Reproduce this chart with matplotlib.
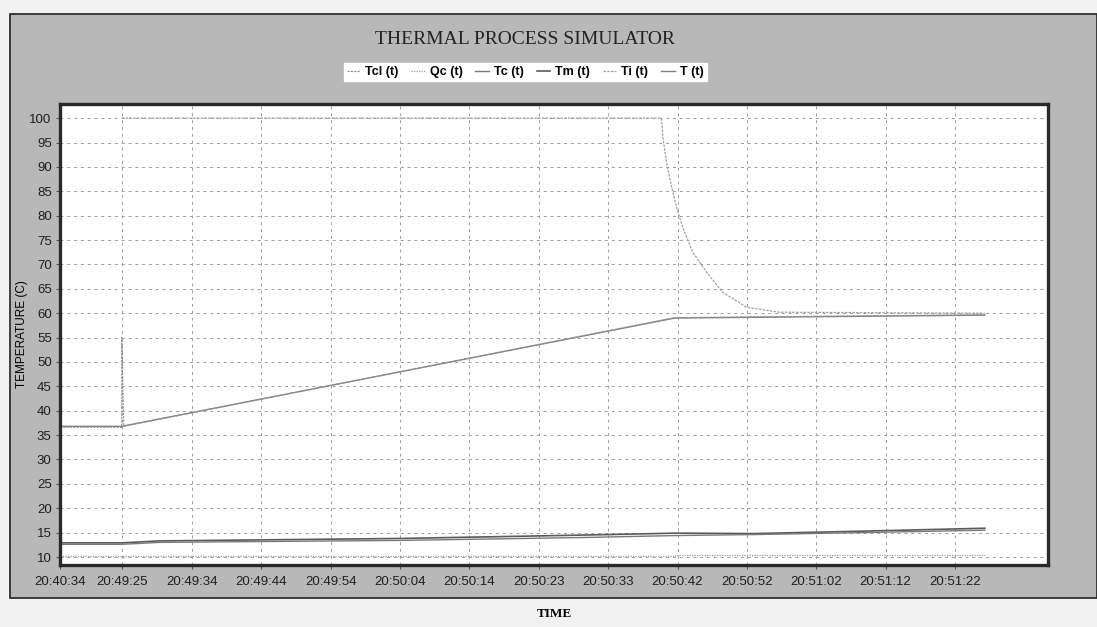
import numpy as np
import matplotlib.pyplot as plt
from matplotlib.patches import Rectangle

# sample index (one per second) and the clock labels under the grid
tick_pos = [0, 9, 19, 29, 39, 49, 59, 69, 79, 89, 99, 109, 119, 129]
tick_lbl = ['20:40:34', '20:49:25', '20:49:34', '20:49:44', '20:49:54', '20:50:04',
            '20:50:14', '20:50:23', '20:50:33', '20:50:42', '20:50:52', '20:51:02',
            '20:51:12', '20:51:22']

# Ti(t): held at 100 then decays towards 60
ti_x = [8.9, 86.7, 86.9, 87.5, 88.2, 88.9, 89.8, 91.2, 93.2, 95.5, 99.0, 103.7, 133.3]
ti_y = [100, 100, 95.9, 90.3, 85.6, 81.5, 77.4, 72.5, 68.4, 64.3, 61.2, 60.2, 60.0]

# T(t): ramp from 37 to 59
t_x = [0, 8.9, 88.6, 133.3]
t_y = [36.8, 36.8, 59.0, 59.6]

# Tcl(t): spike at the start then along the ramp
tcl_x = [0, 8.9, 8.9, 9.2, 88.6, 133.3]
tcl_y = [36.6, 36.6, 55.0, 36.8, 59.1, 59.7]

# Tm(t), Tc(t): the low lines
tm_x = [0, 8.9, 14.4, 49, 75.5, 88.9, 99.9, 115.7, 133.3]
tm_y = [12.9, 12.9, 13.3, 13.8, 14.5, 14.9, 14.8, 15.3, 15.9]
tc_x = [0, 8.9, 14.4, 49, 75.5, 88.9, 99.9, 115.7, 133.3]
tc_y = [12.6, 12.6, 13.0, 13.4, 14.0, 14.4, 14.6, 15.0, 15.5]

# Qc(t)
qc_x = [0, 88.6, 88.6, 133.3]
qc_y = [10.3, 10.3, 10.4, 10.4]

fig = plt.figure(figsize=(10.97, 6.27), dpi=100)
fig.patch.set_facecolor('#f2f2f2')

# gray panel with a thin border
fig.patches.append(Rectangle((10/1097, 1-598/627), 1087/1097, 584/627,
                             transform=fig.transFigure, facecolor='#b8b8b8',
                             edgecolor='#222222', linewidth=1.2, zorder=-5))

ax = fig.add_axes([60/1097, 1-565/627, 988/1097, 461/627])
ax.set_zorder(2)
ax.set_facecolor('white')

ax.plot(ti_x, ti_y, color='#a0a0a0', lw=0.9, linestyle=(0, (2, 1)), label='Ti (t)')
ax.plot(t_x, t_y, color='#808080', lw=1.0, label='T (t)')
ax.plot(tcl_x, tcl_y, color='#909090', lw=0.8, linestyle=(0, (2, 1)), label='Tcl (t)')
ax.plot(tm_x, tm_y, color='#5a5a5a', lw=1.2, label='Tm (t)')
ax.plot(tc_x, tc_y, color='#7a7a7a', lw=1.0, label='Tc (t)')
ax.plot(qc_x, qc_y, color='#9a9a9a', lw=0.9, linestyle=(0, (1, 1)), label='Qc (t)')

ax.set_xlim(0, 142.4)
ax.set_ylim(8.36, 102.9)
ax.set_yticks(range(10, 101, 5))
ax.set_xticks(tick_pos)
ax.set_xticklabels(tick_lbl)
ax.tick_params(axis='both', labelsize=9.5, length=3, width=0.8, color='#555555',
               labelcolor='#1e1e1e', pad=3)
ax.tick_params(axis='x', pad=5)
for lab in ax.get_xticklabels() + ax.get_yticklabels():
    lab.set_family('Liberation Sans')

ax.grid(True, color='#9c9c9c', linestyle=(0, (3, 4)), linewidth=0.7)
for s in ax.spines.values():
    s.set_linewidth(2.4)
    s.set_color('#2a2a2a')

ax.set_ylabel('TEMPERATURE (C)', fontsize=8.5, family='Liberation Sans', labelpad=1)
ax.set_xlabel('TIME', fontsize=9.5, family='Liberation Serif', fontweight='bold', labelpad=14)

fig.text(525/1097, 1-40/627, 'THERMAL PROCESS SIMULATOR', ha='center', va='center',
         fontsize=14, family='Liberation Serif', color='#222222')

# legend in the order shown above the plot
h, l = ax.get_legend_handles_labels()
order = ['Tcl (t)', 'Qc (t)', 'Tc (t)', 'Tm (t)', 'Ti (t)', 'T (t)']
hh = [h[l.index(o)] for o in order]
leg = fig.legend(hh, order, loc='center', bbox_to_anchor=(525/1097, 1-72/627), ncol=6,
                 frameon=True, fancybox=False, framealpha=1, edgecolor='white',
                 prop={'family': 'Liberation Sans', 'weight': 'bold', 'size': 9},
                 handlelength=1.1, handletextpad=0.4, columnspacing=1.0,
                 borderpad=0.25)

fig.savefig('out.png', dpi=100, facecolor=fig.get_facecolor())
